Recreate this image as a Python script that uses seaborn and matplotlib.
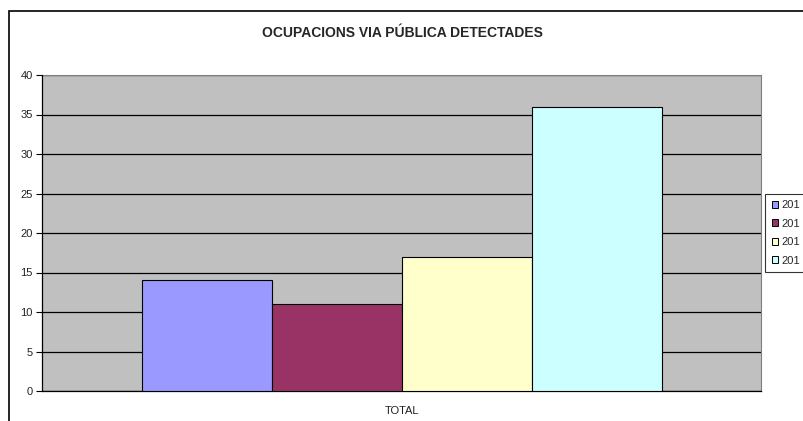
import pandas as pd
import numpy as np
import matplotlib.pyplot as plt
import seaborn as sns
from matplotlib.patches import Rectangle

categories = ["TOTAL"]
# legend labels as they appear (truncated) in the source chart
years = ["201", "201 ", "201  ", "201   "]
values = [14, 11, 17, 36]
colors = ["#9999FF", "#993366", "#FFFFCC", "#CCFFFF"]

df = pd.DataFrame({
    "cat": categories * len(years),
    "year": years,
    "value": values,
})

sns.set_style("white")
plt.rcParams['font.family'] = ['Liberation Sans', 'DejaVu Sans']

fig = plt.figure(figsize=(8.04, 4.21), dpi=100)
fig.patch.set_facecolor("white")
# outer chart frame, cut off at right and bottom
fig.patches.append(Rectangle((9 / 804, -0.1), 1.0, (421 - 11) / 421 + 0.1,
                             transform=fig.transFigure, fill=False,
                             edgecolor="black", linewidth=1.2))

ax = fig.add_axes([42.5 / 804, (421 - 391) / 421, (761 - 42.5) / 804, (391 - 75) / 421])
ax.set_facecolor("#C0C0C0")

sns.barplot(data=df, x="cat", y="value", hue="year", palette=colors,
            width=0.724, edgecolor="black", linewidth=0.8, saturation=1,
            ax=ax, zorder=3)

ax.set_ylim(0, 40)
ax.set_yticks(np.arange(0, 41, 5))
ax.set_xlim(-0.5, 0.5)
ax.yaxis.grid(True, color="black", linewidth=0.9, zorder=0)
ax.set_axisbelow(True)
ax.set_xlabel("")
ax.set_ylabel("")
ax.tick_params(axis="y", labelsize=8, length=4, width=0.8, color="black", left=True, pad=3,
               labelcolor="#222222")
ax.tick_params(axis="x", labelsize=8, length=0, pad=11, labelcolor="#222222")
for s in ["left", "bottom"]:
    ax.spines[s].set_color("black")
    ax.spines[s].set_linewidth(0.9)
for s in ["top", "right"]:
    ax.spines[s].set_color("#808080")
    ax.spines[s].set_linewidth(0.8)

fig.text(0.5, (421 - 33) / 421, "OCUPACIONS VIA PÚBLICA DETECTADES",
         ha="center", va="center", fontsize=10, fontweight="bold")

ax.get_legend().remove()
handles = [Rectangle((0, 0), 1, 1, facecolor=c, edgecolor="black", linewidth=0.7) for c in colors]
leg = fig.legend(handles, [y.strip() for y in years], loc="center left",
                 bbox_to_anchor=(765 / 804, (421 - 233) / 421),
                 bbox_transform=fig.transFigure, fontsize=8, frameon=True, fancybox=False,
                 handlelength=0.6, handleheight=0.6, handletextpad=0.3, labelspacing=0.75,
                 borderpad=0.6, borderaxespad=0)
leg.get_frame().set_edgecolor("black")
leg.get_frame().set_linewidth(0.8)

fig.savefig("out.png", dpi=100)
